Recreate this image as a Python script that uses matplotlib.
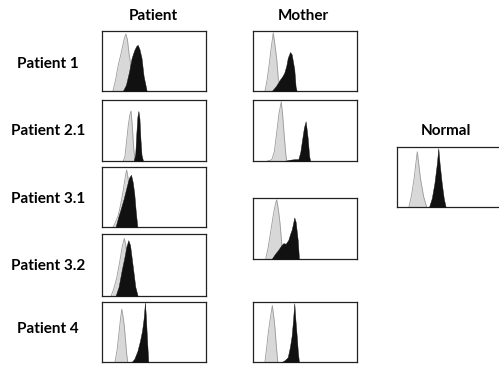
import matplotlib
matplotlib.use('Agg')
import matplotlib.pyplot as plt

# histogram outlines, x and y in % of the panel
pat1_gray_x = [10.5, 13, 15.7, 18, 19.5, 21.5, 23, 24.5, 26, 28, 31, 34]
pat1_gray_y = [0, 18, 44, 60, 72, 88, 95, 85, 62, 40, 15, 0]
pat1_black_x = [20, 23, 26, 28.5, 31, 33, 34.3, 36, 38, 40, 43]
pat1_black_y = [0, 10, 32, 55, 68, 75, 77, 70, 55, 25, 0]

pat21_gray_x = [20.5, 22, 23.5, 25.3, 26.7, 27.9, 29, 30.5, 32]
pat21_gray_y = [0, 7, 30, 59, 75, 82, 60, 20, 0]
pat21_black_x = [30.5, 32, 33, 34, 35, 36, 37, 38, 39.5]
pat21_black_y = [0, 12, 45, 72, 82, 70, 35, 10, 0]

pat31_gray_x = [10.6, 13, 15.7, 18, 20.5, 22.5, 23.7, 25, 27, 29]
pat31_gray_y = [0, 8, 20, 38, 62, 85, 95, 82, 50, 0]
pat31_black_x = [13, 15.7, 18, 21, 23.7, 26, 27.9, 29.5, 31, 32.5, 34]
pat31_black_y = [0, 17, 30, 48, 67, 82, 87, 75, 56, 25, 0]

pat32_gray_x = [8.7, 11, 14, 17, 19.5, 21.5, 23, 25, 27]
pat32_gray_y = [0, 10, 28, 55, 80, 93, 80, 40, 0]
pat32_black_x = [13, 16, 19, 21.5, 23.5, 25.3, 27, 28.5, 30, 32, 34.3]
pat32_black_y = [0, 15, 42, 62, 80, 90, 82, 62, 42, 15, 0]

pat4_gray_x = [12.5, 14.5, 16.3, 17.8, 19, 20.3, 21.5, 23.7, 24.7]
pat4_gray_y = [0, 20, 48, 72, 88, 75, 59, 14, 0]
pat4_black_x = [28.5, 31, 34, 36.5, 38.5, 40, 41.3, 42.2, 43.2, 44.5]
pat4_black_y = [0, 5, 18, 35, 52, 72, 99, 75, 40, 0]

mom1_gray_x = [11.5, 13.5, 15.4, 17.5, 19.5, 21, 22.8, 24.4, 27, 30]
mom1_gray_y = [0, 18, 42, 72, 97, 78, 53, 19, 8, 0]
mom1_black_x = [18, 22, 25.9, 28, 30, 32, 33.4, 35.6, 37.2, 39.7, 41, 42]
mom1_black_y = [0, 8, 19, 24, 30, 42, 55, 65, 61, 36, 7, 0]

mom21_gray_x = [14, 18, 20.5, 22.8, 25, 27.2, 28.5, 30, 31.5, 32.4]
mom21_gray_y = [0, 2, 15, 47, 78, 97, 75, 42, 12, 0]
mom21_black_x = [30, 35, 40, 43.6, 45.5, 47.4, 49, 50.6, 51.6, 52.6, 54, 55]
mom21_black_y = [0, 2, 3, 3, 15, 37, 55, 65, 52, 37, 8, 0]

mom31_gray_x = [12.2, 14.5, 17.3, 19.5, 21.5, 22.8, 24.5, 26, 27.6, 29]
mom31_gray_y = [0, 18, 48, 72, 90, 97, 80, 58, 26, 0]
mom31_black_x = [17.9, 21, 24.3, 27, 29.2, 31.4, 33.9, 35.5, 37.2, 38.5, 39.7, 41, 43, 44.2]
mom31_black_y = [0, 8, 15, 22, 26, 25, 31, 40, 48, 58, 68, 61, 31, 0]

mom4_gray_x = [11.5, 13, 14.7, 16.8, 18.6, 20, 21.2, 22.5, 23.8]
mom4_gray_y = [0, 22, 49, 75, 94, 75, 55, 25, 0]
mom4_black_x = [27.6, 30.5, 33.4, 35.5, 37.2, 38.5, 39.7, 40.8, 42, 43.2, 44.2]
mom4_black_y = [0, 3, 8, 25, 44, 70, 98, 70, 44, 15, 0]

norm_gray_x = [11.5, 14, 16.5, 18.5, 19.5, 20.5, 22.5, 25.5, 28.5]
norm_gray_y = [0, 20, 48, 78, 92, 78, 48, 18, 0]
norm_black_x = [30.8, 33.5, 36, 38.3, 39.7, 41, 43, 45, 46.8]
norm_black_y = [0, 15, 40, 72, 98, 72, 40, 14, 0]

row_labels = ['Patient 1', 'Patient 2.1', 'Patient 3.1', 'Patient 3.2', 'Patient 4']
col_titles = ['Patient', 'Mother', 'Normal']

W, H = 499, 365
fig = plt.figure(figsize=(W / 100, H / 100), dpi=100)
font = dict(family='Lato', fontweight='bold', fontsize=11)


def panel(left, top, right, bottom, gx, gy, bx, by):
    ax = fig.add_axes([left / W, 1 - bottom / H, (right - left) / W, (bottom - top) / H])
    ax.fill_between(gx, gy, color='#d8d8d8', lw=0, zorder=1)
    ax.plot(gx, gy, color='#9a9a9a', lw=0.6, zorder=2)
    ax.fill_between(bx, by, color='#111111', lw=0.3, edgecolor='#111111', zorder=3)
    ax.set_xlim(0, 100)
    ax.set_ylim(0, 100)
    ax.set_xticks([])
    ax.set_yticks([])
    for s in ax.spines.values():
        s.set_linewidth(0.9)
        s.set_color('#222222')
    return ax


# patient column
panel(102, 31, 206, 91, pat1_gray_x, pat1_gray_y, pat1_black_x, pat1_black_y)
panel(102, 100, 206, 161, pat21_gray_x, pat21_gray_y, pat21_black_x, pat21_black_y)
panel(102, 167, 206, 227, pat31_gray_x, pat31_gray_y, pat31_black_x, pat31_black_y)
panel(102, 234, 206, 296, pat32_gray_x, pat32_gray_y, pat32_black_x, pat32_black_y)
panel(102, 302, 206, 362, pat4_gray_x, pat4_gray_y, pat4_black_x, pat4_black_y)

# mother column
panel(253, 31, 357, 91, mom1_gray_x, mom1_gray_y, mom1_black_x, mom1_black_y)
panel(253, 100, 357, 161, mom21_gray_x, mom21_gray_y, mom21_black_x, mom21_black_y)
panel(253, 198, 357, 259, mom31_gray_x, mom31_gray_y, mom31_black_x, mom31_black_y)
panel(253, 302, 357, 362, mom4_gray_x, mom4_gray_y, mom4_black_x, mom4_black_y)

# normal control
panel(397, 147, 501, 207, norm_gray_x, norm_gray_y, norm_black_x, norm_black_y)

# titles and row labels
for txt, x, y in zip(col_titles, [153, 303, 446], [16, 16, 131]):
    fig.text(x / W, 1 - y / H, txt, ha='center', va='center', **font)
for txt, y in zip(row_labels, [64, 131, 199, 266, 329]):
    fig.text(48 / W, 1 - y / H, txt, ha='center', va='center', **font)

fig.savefig('out.png', dpi=100)
